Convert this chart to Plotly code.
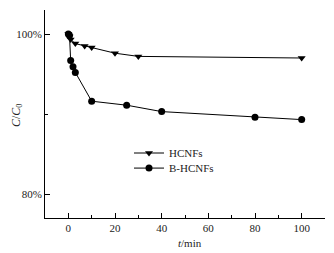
import plotly.graph_objects as go

t_hcnf = [0, 0.5, 1, 3, 7, 10, 20, 30, 100]
c_hcnf = [100, 99.7, 99.3, 98.8, 98.5, 98.3, 97.6, 97.2, 97.0]
t_bhcnf = [0, 0.5, 1, 2, 3, 10, 25, 40, 80, 100]
c_bhcnf = [100, 99.8, 96.7, 95.9, 95.2, 91.6, 91.1, 90.3, 89.6, 89.3]
x_ticks = [0, 20, 40, 60, 80, 100]
y_ticks = [80, 100]
y_ticklabels = ["80%", "100%"]

font = "Liberation Serif"
fig = go.Figure()
fig.add_trace(go.Scatter(x=t_hcnf, y=c_hcnf, name="HCNFs", mode="lines+markers",
                         line=dict(color="black", width=1), legend="legend",
                         marker=dict(symbol="triangle-down", size=7, color="black")))
fig.add_trace(go.Scatter(x=t_bhcnf, y=c_bhcnf, name="B-HCNFs", mode="lines+markers",
                         line=dict(color="black", width=1), legend="legend2",
                         marker=dict(symbol="circle", size=7, color="black")))

leg_common = dict(xanchor="left", yanchor="middle", bgcolor="rgba(0,0,0,0)",
                  font=dict(family=font, size=11, color="#222"), itemwidth=30)
fig.update_layout(
    width=326, height=245,
    margin=dict(l=37, r=9, t=2, b=35),
    paper_bgcolor="white", plot_bgcolor="white",
    font=dict(family=font, size=11, color="#222"),
    showlegend=True,
    legend=dict(x=0.3, y=0.3125, **leg_common),
    legend2=dict(x=0.3, y=0.24, **leg_common),
    xaxis=dict(range=[-10, 110], tickmode="array", tickvals=x_ticks,
               showline=True, linecolor="black", linewidth=1, mirror=False,
               showgrid=False, zeroline=False, ticks="inside", ticklen=5,
               tickcolor="black", tickwidth=1,
               minor=dict(tickmode="linear", tick0=-10, dtick=10, ticks="inside",
                          ticklen=3, tickcolor="black", tickwidth=1)),
    yaxis=dict(range=[77, 103], tickmode="array", tickvals=y_ticks, ticktext=y_ticklabels,
               showline=True, linecolor="black", linewidth=1, mirror=False,
               showgrid=False, zeroline=False, ticks="inside", ticklen=5,
               tickcolor="black", tickwidth=1,
               minor=dict(tickmode="array", tickvals=[90], ticks="inside",
                          ticklen=3, tickcolor="black", tickwidth=1)),
)
fig.add_annotation(text="<i>C</i>/<i>C</i><sub>0</sub>", xref="paper", yref="paper",
                   x=-0.1, y=0.495, xanchor="center", yanchor="middle", textangle=-90,
                   showarrow=False, font=dict(family=font, size=12, color="#222"))
fig.add_annotation(text="<i>t</i>/min", xref="paper", yref="paper",
                   x=0.518, y=-0.12, xanchor="center", yanchor="middle",
                   showarrow=False, font=dict(family=font, size=11, color="#222"))
fig.write_html("out.html")
